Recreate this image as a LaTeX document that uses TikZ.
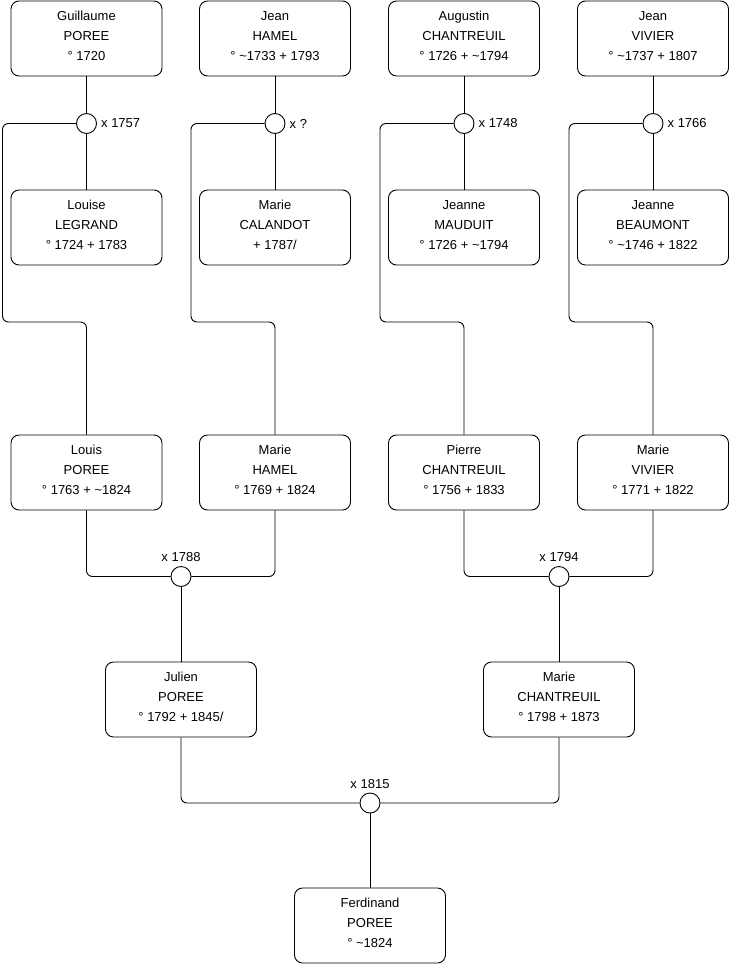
\documentclass[tikz,border=0pt]{standalone}
\usepackage{fontspec}
\setmainfont{Liberation Sans}
\newcommand\perstext[3]{\raisebox{0pt}[\height][\dimexpr\depth+5pt\relax]{\begin{tabular}{@{}c@{}}#1\\#2\\#3\end{tabular}}}
\tikzset{
  person/.style={draw, line width=0.9pt, rounded corners=8pt, minimum width=151pt, minimum height=75pt, inner sep=0pt, align=center, font=\fontsize{13}{20}\selectfont},
  union/.style={draw, line width=0.9pt, circle, fill=white, minimum size=20pt, inner sep=0pt},
  ulabel/.style={font=\fontsize{13}{15}\selectfont, inner sep=0pt},
  link/.style={line width=0.9pt, rounded corners=6pt}
}
\begin{document}
\begin{tikzpicture}[x=1pt,y=-1pt]
\useasboundingbox[fill=white] (0,0) rectangle (740,975);
% generation 1
\node[person] (g1) at (86.5,38.5) {\perstext{Guillaume}{POREE}{° 1720}};
\node[person] (g2) at (275,38.5) {\perstext{Jean}{HAMEL}{° \textasciitilde1733 + 1793}};
\node[person] (g3) at (464,38.5) {\perstext{Augustin}{CHANTREUIL}{° 1726 + \textasciitilde1794}};
\node[person] (g4) at (653,38.5) {\perstext{Jean}{VIVIER}{° \textasciitilde1737 + 1807}};
% wives
\node[person] (w1) at (86.5,227.5) {\perstext{Louise}{LEGRAND}{° 1724 + 1783}};
\node[person] (w2) at (275,227.5) {\perstext{Marie}{CALANDOT}{+ 1787/}};
\node[person] (w3) at (464,227.5) {\perstext{Jeanne}{MAUDUIT}{° 1726 + \textasciitilde1794}};
\node[person] (w4) at (653,227.5) {\perstext{Jeanne}{BEAUMONT}{° \textasciitilde1746 + 1822}};
% generation 2
\node[person] (c1) at (86.5,472.5) {\perstext{Louis}{POREE}{° 1763 + \textasciitilde1824}};
\node[person] (c2) at (275,472.5) {\perstext{Marie}{HAMEL}{° 1769 + 1824}};
\node[person] (c3) at (464,472.5) {\perstext{Pierre}{CHANTREUIL}{° 1756 + 1833}};
\node[person] (c4) at (653,472.5) {\perstext{Marie}{VIVIER}{° 1771 + 1822}};
% generation 3
\node[person] (d1) at (181,699.5) {\perstext{Julien}{POREE}{° 1792 + 1845/}};
\node[person] (d2) at (559,699.5) {\perstext{Marie}{CHANTREUIL}{° 1798 + 1873}};
% generation 4
\node[person] (e1) at (370,925.5) {\perstext{Ferdinand}{POREE}{° \textasciitilde1824}};
% unions
\node[union] (u1) at (86.5,123.5) {};
\node[union] (u2) at (275,123.5) {};
\node[union] (u3) at (464,123.5) {};
\node[union] (u4) at (653,123.5) {};
\node[union] (u5) at (181,576.5) {};
\node[union] (u6) at (559,576.5) {};
\node[union] (u7) at (370,803) {};
% union labels
\node[ulabel, anchor=west] (l1) at ([xshift=4pt]u1.east) {x 1757};
\node[ulabel, anchor=west] (l2) at ([xshift=4pt]u2.east) {x ?};
\node[ulabel, anchor=west] (l3) at ([xshift=4pt]u3.east) {x 1748};
\node[ulabel, anchor=west] (l4) at ([xshift=4pt]u4.east) {x 1766};
\node[ulabel, anchor=south] (l5) at ([yshift=4pt]u5.north) {x 1788};
\node[ulabel, anchor=south] (l6) at ([yshift=4pt]u6.north) {x 1794};
\node[ulabel, anchor=south] (l7) at ([yshift=4pt]u7.north) {x 1815};
% connectors generation 1
\foreach \i in {1,2,3,4}{
  \draw[link] (g\i) -- (u\i);
  \draw[link] (u\i) -- (w\i);
}
\coordinate (k1) at (2.5,322);
\coordinate (k2) at (191,322);
\coordinate (k3) at (380,322);
\coordinate (k4) at (569,322);
\foreach \i in {1,2,3,4}{
  \draw[link] (u\i.west) -| (k\i) -| (c\i.north);
}
% connectors generation 2
\draw[link] (c1.south) |- (u5.west);
\draw[link] (c2.south) |- (u5.east);
\draw[link] (u5) -- (d1);
\draw[link] (c3.south) |- (u6.west);
\draw[link] (c4.south) |- (u6.east);
\draw[link] (u6) -- (d2);
% connectors generation 3
\draw[link] (d1.south) |- (u7.west);
\draw[link] (d2.south) |- (u7.east);
\draw[link] (u7) -- (e1);
\end{tikzpicture}
\end{document}
